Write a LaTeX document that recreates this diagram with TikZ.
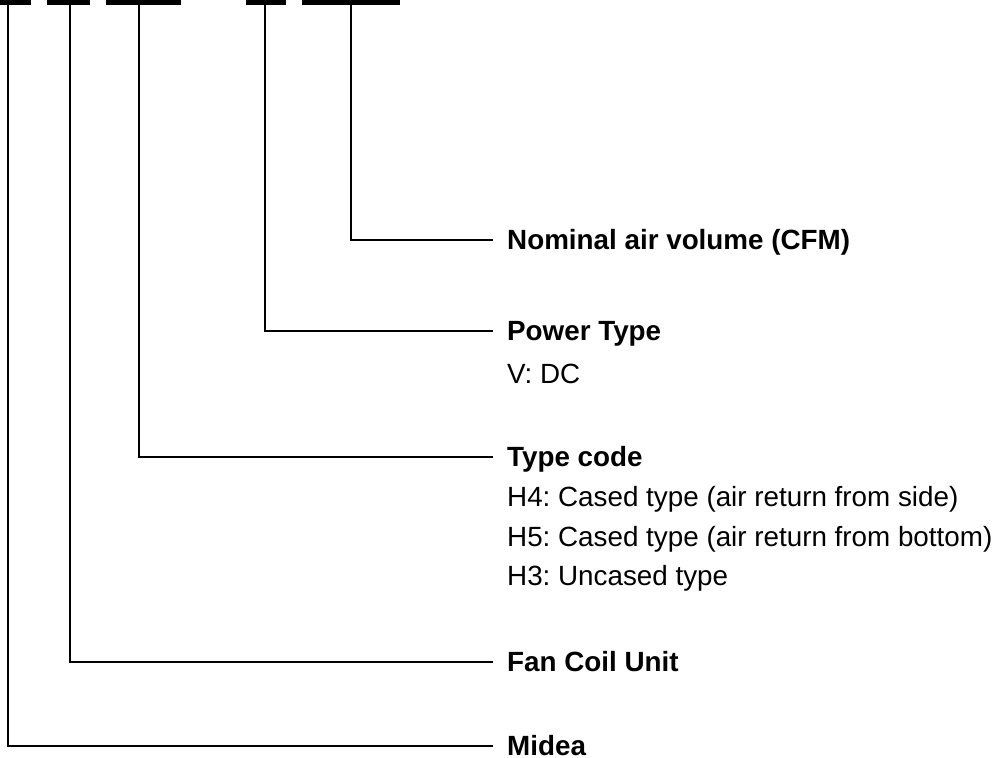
\documentclass[tikz,border=0pt]{standalone}
\usepackage{fontspec}
\setmainfont{Liberation Sans}
\usetikzlibrary{positioning}
\newcommand{\labelsize}{\fontsize{27.8}{33}\selectfont\frenchspacing}

\tikzset{
  bar/.style={fill=black, draw=none, inner sep=0pt, minimum height=4.5pt, anchor=north west},
  head/.style={font=\labelsize\bfseries, anchor=base west, inner sep=0pt},
  note/.style={font=\labelsize, anchor=base west, inner sep=0pt},
  lead/.style={draw=black, line width=1.5pt},
}

\begin{document}
\begin{tikzpicture}[x=1pt, y=-1pt]
            \useasboundingbox (0,0) rectangle (997,758);
            % Code segments along the top
            \node[bar, minimum width=46pt] (seg1) at (-15,0) {};
            \node[bar, minimum width=43pt] (seg2) at (47,0) {};
            \node[bar, minimum width=75pt] (seg3) at (106,0) {};
            \node[bar, minimum width=40pt] (seg4) at (246,0) {};
            \node[bar, minimum width=98pt] (seg5) at (302,0) {};
            % Labels
            \node[head] (cfm) at (507,249) {Nominal air volume (CFM)};
            \node[head] (power) at (507,340) {Power Type};
            \node[note, below=43pt of power.base west, anchor=base west] (dc) {V: DC};
            \node[head] (type) at (507,466) {Type code};
            \node[note] (h4) at (507,506) {H4: Cased type (air return from side)};
            \node[note] (h5) at (507,546) {H5: Cased type (air return from bottom)};
            \node[note] (h3) at (507,585) {H3: Uncased type};
            \node[head] (fcu) at (507,671) {Fan Coil Unit};
            \node[head] (brand) at (507,755) {Midea};
            % Leaders
            \draw[lead] (seg5.south) |- ([shift={(-14,-9)}]cfm.base west);
            \draw[lead] ([xshift=19pt]seg4.south west) |- ([shift={(-14,-9)}]power.base west);
            \draw[lead] ([xshift=33pt]seg3.south west) |- ([shift={(-14,-9)}]type.base west);
            \draw[lead] ([xshift=23pt]seg2.south west) |- ([shift={(-14,-9)}]fcu.base west);
            \draw[lead] (seg1.south) |- ([shift={(-14,-9)}]brand.base west);
        \end{tikzpicture}
\end{document}
